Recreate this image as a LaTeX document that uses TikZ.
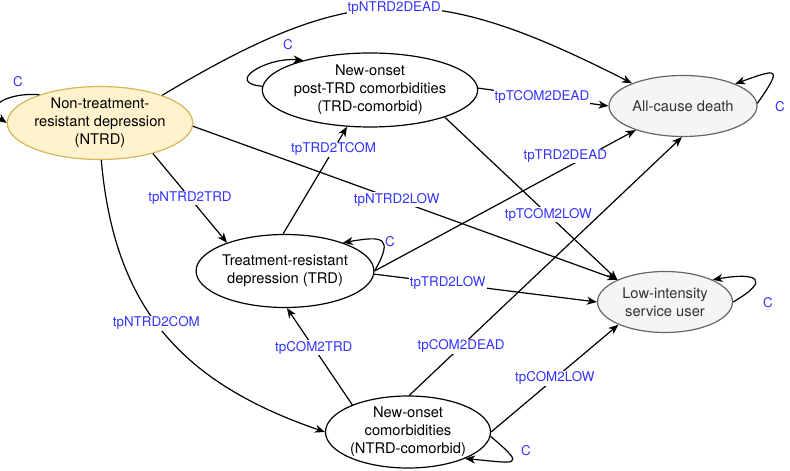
\documentclass[tikz,border=0pt]{standalone}
\usepackage{fontspec}
\setmainfont{TeX Gyre Heros}
\usepackage{tikz}
\usetikzlibrary{shapes.geometric}
\usetikzlibrary{positioning}
\usetikzlibrary{arrows.meta}

\definecolor{ntrdfill}{HTML}{FFF2CC}
\definecolor{ntrdline}{HTML}{D6B656}
\definecolor{endfill}{HTML}{F5F5F5}
\definecolor{endline}{HTML}{666666}
\definecolor{endtext}{HTML}{333333}
\definecolor{tpblue}{HTML}{3333FF}

\begin{document}
\begin{tikzpicture}[x=1pt, y=1pt,
    state/.style={ellipse, draw, line width=1.2pt, inner sep=0pt, align=center,
        font=\fontsize{14.7}{18}\selectfont},
    absorb/.style={state, fill=endfill, draw=endline, text=endtext},
    tp/.style={text=tpblue, fill=white, inner sep=1pt, font=\fontsize{13.4}{16}\selectfont},
    cyc/.style={text=tpblue, inner sep=1pt, font=\fontsize{13.4}{16}\selectfont},
    move/.style={-{Stealth[length=10pt,width=8pt,inset=3pt]}, line width=1.2pt}]
    \useasboundingbox (0,0) rectangle (790,471);

    \node[state, fill=ntrdfill, draw=ntrdline, minimum width=161pt, minimum height=73pt]
        (ntrd) at (100,348) {Non-treatment-\\resistant depression\\(NTRD)};
    \node[state, minimum width=185pt, minimum height=74pt]
        (tcom) at (370,381) {New-onset\\post-TRD comorbidities\\(TRD-comorbid)};
    \node[absorb, minimum width=148pt, minimum height=61pt]
        (dead) at (683,365) {All-cause death};
    \node[state, minimum width=161pt, minimum height=73pt]
        (trd) at (285,200) {Treatment-resistant\\depression (TRD)};
    \node[absorb, minimum width=135pt, minimum height=61pt]
        (low) at (665,169) {Low-intensity\\service user};
    \node[state, minimum width=165pt, minimum height=72pt]
        (com) at (408,39) {New-onset\\comorbidities\\(NTRD-comorbid)};

    \node[cyc] (cntrd) at (18,389) {C};
    \node[cyc] (ctcom) at (288,426) {C};
    \node[cyc] (ctrd) at (390,229) {C};
    \node[cyc] (cdead) at (780,364) {C};
    \node[cyc] (clow) at (768,168) {C};
    \node[cyc] (ccom) at (526,20) {C};

    \draw[move] (ntrd.155) to[out=175, in=145, distance=30pt] (ntrd.180);
    \draw[move] (tcom.178) to[out=175, in=175, distance=38pt] (tcom.156);
    \draw[move] (trd.0) to[out=60, in=10, distance=40pt] (trd.26);
    \draw[move] (dead.2) to[out=55, in=20, distance=45pt] (dead.23);
    \draw[move] (low.0) to[out=30, in=10, distance=45pt] (low.25);
    \draw[move] (com.-3) to[out=-40, in=-5, distance=50pt] (com.-25);

    \draw[move] (ntrd.24) to[out=31, in=153, distance=224pt]
        node[tp, pos=0.5] {tpNTRD2DEAD} (dead.156);
    \draw[move] (ntrd.-30) -- node[tp, pos=0.5] {tpNTRD2TRD} (trd.154);
    \draw[move] (ntrd.-2) -- node[tp, pos=0.48] {tpNTRD2LOW} (low.155);
    \draw[move] (ntrd.-88) to[out=-85, in=161, distance=150pt]
        node[tp, pos=0.46] {tpNTRD2COM} (com.180);
    \draw[move] (trd.93) -- node[tp, pos=0.79] {tpTRD2TCOM} (tcom.238);
    \draw[move] (tcom.1) -- node[tp, pos=0.49] {tpTCOM2DEAD} (dead.180);
    \draw[move] (tcom.-20) -- node[tp, pos=0.6] {tpTCOM2LOW} (low.155);
    \draw[move] (trd.0) -- node[tp, pos=0.73, yshift=12pt] {tpTRD2DEAD} (dead.207);
    \draw[move] (trd.-2) -- node[tp, pos=0.33] {tpTRD2LOW} (low.180);
    \draw[move] (com.154) -- node[tp, pos=0.59] {tpCOM2TRD} (trd.-87);
    \draw[move] (com.88) -- node[tp, pos=0.19] {tpCOM2DEAD} (dead.-92);
    \draw[move] (com.0) -- node[tp, pos=0.5] {tpCOM2LOW} (low.206);
\end{tikzpicture}
\end{document}
